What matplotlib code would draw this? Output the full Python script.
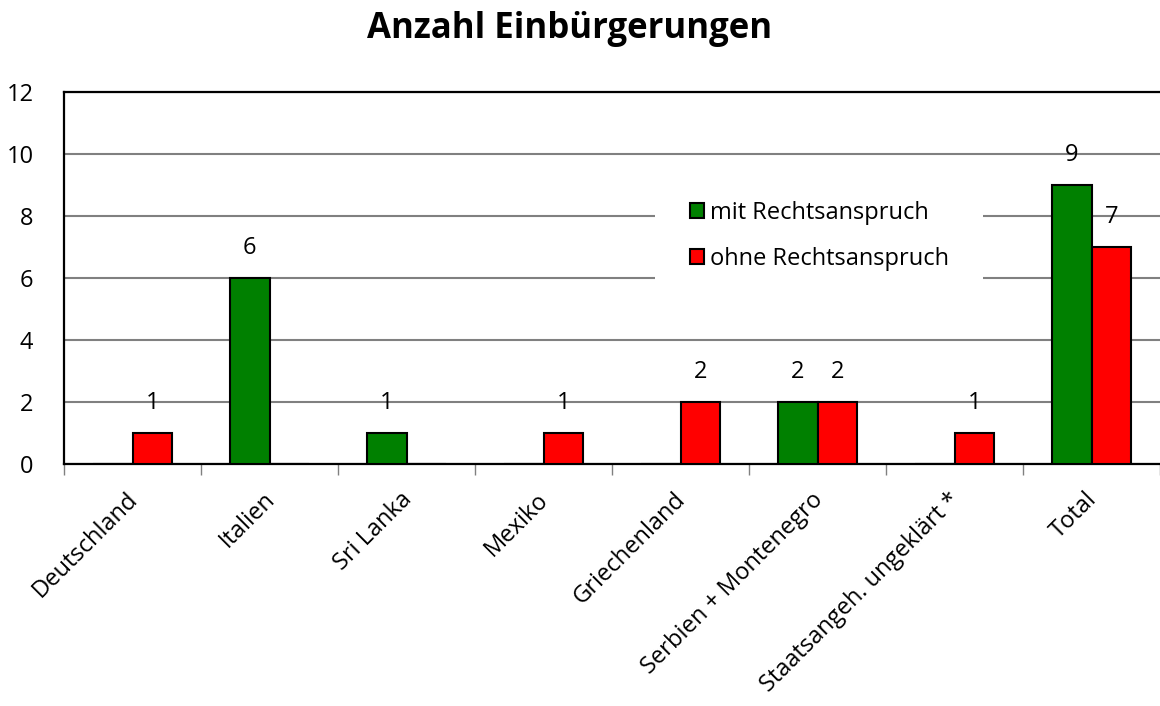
import numpy as np
import matplotlib.pyplot as plt
from matplotlib.patches import Rectangle

plt.rcParams['font.family'] = ['Open Sans', 'DejaVu Sans']

categories = ['Deutschland', 'Italien', 'Sri Lanka', 'Mexiko', 'Griechenland',
              'Serbien + Montenegro', 'Staatsangeh. ungeklärt *', 'Total']
mit = [0, 6, 1, 0, 0, 2, 0, 9]
ohne = [1, 0, 0, 1, 2, 2, 1, 7]

fig = plt.figure(figsize=(11.6, 7.06), dpi=100)
ax = fig.add_axes([0.0552, 0.3428, 0.9448, 0.5269])

x = np.arange(len(categories))
w = 0.29
b1 = ax.bar(x - w / 2, mit, w, color='#008000', edgecolor='black', linewidth=1.5,
            label='mit Rechtsanspruch', zorder=3)
b2 = ax.bar(x + w / 2, ohne, w, color='#ff0000', edgecolor='black', linewidth=1.5,
            label='ohne Rechtsanspruch', zorder=3)
ax.bar_label(b1, labels=[str(v) if v else '' for v in mit], padding=13, fontsize=17)
ax.bar_label(b2, labels=[str(v) if v else '' for v in ohne], padding=13, fontsize=17)

ax.set_xlim(-0.5, len(categories) - 0.5)
ax.set_ylim(0, 12)
ax.set_yticks(range(0, 13, 2))
ax.yaxis.grid(True, color='#808080', linewidth=1.5, zorder=0)
ax.tick_params(axis='y', length=0, pad=22, labelsize=17)

ax.set_xticks(x - 0.05)
ax.set_xticklabels(categories, rotation=45, ha='right', rotation_mode='anchor', fontsize=17)
ax.set_xticks(np.arange(-0.5, len(categories)), minor=True)
ax.tick_params(axis='x', which='major', length=0, pad=17)
ax.tick_params(axis='x', which='minor', length=8, color='#808080', width=1)

for s in ['left', 'bottom', 'top']:
    ax.spines[s].set_linewidth(1.6)
ax.spines['right'].set_visible(False)

# white background behind the legend, hides the gridlines
ax.add_patch(Rectangle((655 / 1160, 1 - 300 / 706), 328 / 1160, 115 / 706,
                       transform=fig.transFigure, facecolor='white',
                       edgecolor='none', zorder=4))

leg = ax.legend(loc='center left', bbox_to_anchor=(678 / 1160, 1 - 236 / 706),
                bbox_transform=fig.transFigure, fontsize=17, frameon=False,
                handlelength=0.6, handleheight=0.6, handletextpad=0.25,
                labelspacing=0.95, borderpad=0)
leg.set_zorder(5)

fig.suptitle('Anzahl Einbürgerungen', fontsize=25, fontweight='bold', x=0.491, y=0.985)

fig.savefig('out.png', dpi=100)
